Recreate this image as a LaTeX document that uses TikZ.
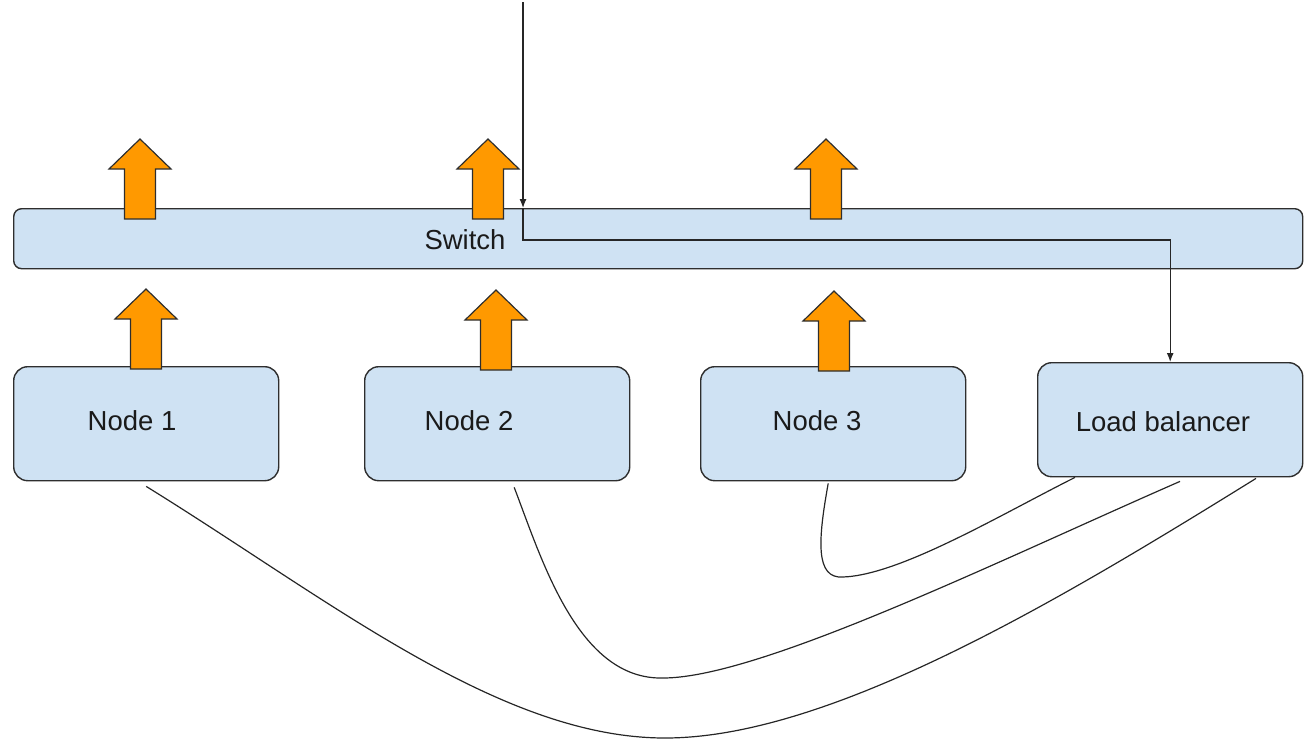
\documentclass[tikz,border=0pt]{standalone}
\usepackage{fontspec}
\setmainfont{Liberation Sans}
\usetikzlibrary{arrows.meta}

\definecolor{boxfill}{HTML}{CFE2F3}
\definecolor{boxline}{HTML}{2E2E2E}
\definecolor{flow}{HTML}{FF9900}
\definecolor{labeltext}{HTML}{1A1A1A}

\tikzset{
  panel/.style={draw=boxline, fill=boxfill, line width=1.4pt, inner sep=0pt,
    anchor=north west, rounded corners=14pt,
    minimum width=265pt, minimum height=114pt},
  busbar/.style={panel, rounded corners=8pt, minimum width=1289pt, minimum height=60pt},
  caption/.style={text=labeltext, font=\fontsize{27.5}{32}\selectfont, inner sep=0pt},
  wire/.style={draw=black!85, line width=1.2pt},
  feedtip/.style={-{Latex[length=9pt,width=7pt]}},
  flowarrow/.pic={
    \draw[fill=flow, draw=boxline, line width=1.2pt, line join=miter]
      (0,0) -- (31,30) -- (15.5,30) -- (15.5,80) -- (-15.5,80)
      -- (-15.5,30) -- (-31,30) -- cycle;
  }
}

\begin{document}
\begin{tikzpicture}[x=1pt, y=-1pt]
  \useasboundingbox (0,0) rectangle (1308,739);

  % switch bar
  \node[busbar] (switch) at (13,208) {};
  \node[caption] (switchtext) at (465,240) {Switch};

  % uplinks from the switch
  \pic at (140,139) {flowarrow};
  \pic at (488,139) {flowarrow};
  \pic at (826,139) {flowarrow};

  % cluster members and balancer
  \node[panel] (n1) at (13,366) {};
  \node[panel] (n2) at (364,366) {};
  \node[panel] (n3) at (700,366) {};
  \node[panel] (lb) at (1037,362) {};

  \node[caption] (n1text) at (132,421) {Node 1};
  \node[caption] (n2text) at (469,421) {Node 2};
  \node[caption] (n3text) at (817,421) {Node 3};
  \node[caption] (lbtext) at (1163,422) {Load balancer};

  % uplinks from the members to the switch
  \pic at (146,289) {flowarrow};
  \pic at (496,290) {flowarrow};
  \pic at (834,291) {flowarrow};

  % incoming traffic routed through the switch to the balancer
  \coordinate (feed) at (523,2);
  \draw[wire, feedtip] (feed) -- (feed |- switch.north);
  \draw[wire, feedtip] (feed |- switch.north) -- (523,240) -| (lb.north);

  % back links from the balancer to each member
  \draw[wire] ([shift={(0,5)}]n1.south)
    .. controls (330,600) and (500,738) .. (665,738)
    .. controls (830,738) and (1060,600) .. ([shift={(219,1)}]lb.south west);
  \draw[wire] ([shift={(17,6)}]n2.south)
    .. controls (542,560) and (578,680) .. (663,678)
    .. controls (760,678) and (1000,560) .. ([shift={(143,4)}]lb.south west);
  \draw[wire] ([shift={(-5,2)}]n3.south)
    .. controls (818,540) and (815,579) .. (843,577)
    .. controls (900,575) and (1000,515) .. ([shift={(38,0)}]lb.south west);
\end{tikzpicture}
\end{document}
